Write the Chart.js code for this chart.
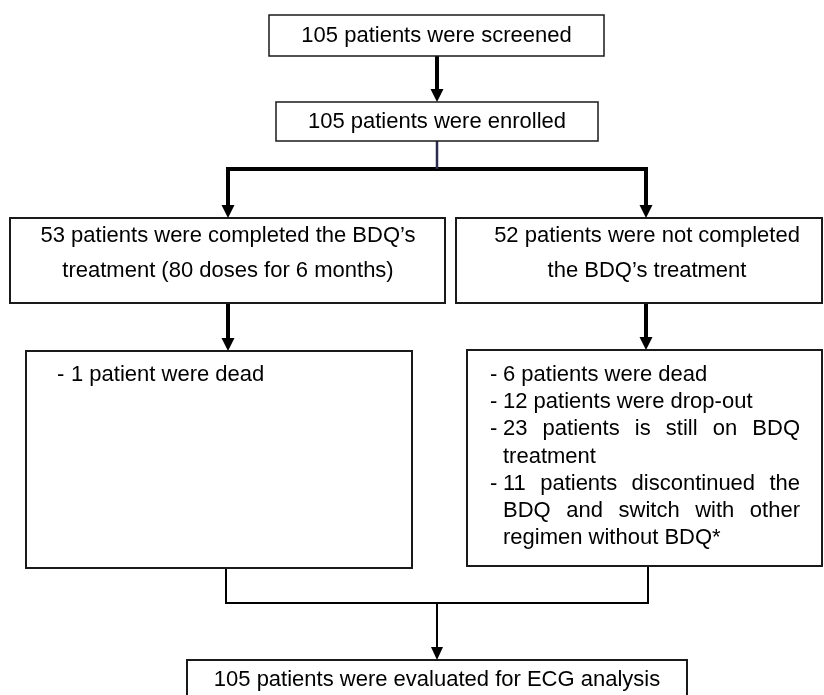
<!DOCTYPE html>
<html><head><meta charset="utf-8">
<script src="https://cdn.jsdelivr.net/npm/chart.js@4.4.1/dist/chart.umd.min.js"></script>
<style>html,body{margin:0;padding:0;background:#fff;overflow:hidden}#wrap{width:824px;height:695px;position:relative}</style>
</head><body><div id="wrap"><canvas id="c"></canvas></div>
<script>
// ---- data (flowchart texts) ----
const screenedLabel = ["105 patients were screened"];
const enrolledLabel = ["105 patients were enrolled"];
const completedLabel = ["53 patients were completed the BDQ\u2019s", "treatment (80 doses for 6 months)"];
const notCompletedLabel = ["52 patients were not completed", "the BDQ\u2019s treatment"];
const completedOutcomes = ["1 patient were dead"];
const notCompletedOutcomes = ["6 patients were dead", "12 patients were drop-out", "23 patients is still on BDQ treatment", "11 patients discontinued the BDQ and switch with other regimen without BDQ*"];
const finalLabel = ["105 patients were evaluated for ECG analysis"];

// ---- layout (scale units) ----
const FONT = '22px "Liberation Sans", Arial, sans-serif';
const boxes = [
  {x0:269, y0:15,  x1:604, y1:56,  w:1.5, lines:screenedLabel, cx:436.5, y:35.5, lh:0},
  {x0:276, y0:102, x1:598, y1:141, w:1.5, lines:enrolledLabel, cx:437, y:121.5, lh:0},
  {x0:10,  y0:218, x1:445, y1:303, w:2, lines:completedLabel, cx:228, y:235.5, lh:35},
  {x0:456, y0:218, x1:822, y1:303, w:2, lines:notCompletedLabel, cx:647, y:235.5, lh:35},
  {x0:26,  y0:351, x1:412, y1:568, w:2, bullets:completedOutcomes, dx:57, tx:71, rx:400, y:375, lh:27.2},
  {x0:467, y0:350, x1:822, y1:566, w:2, bullets:notCompletedOutcomes, dx:490, tx:503, rx:800, y:375, lh:27.2},
  {x0:187, y0:660, x1:687, y1:720, w:2, lines:finalLabel, cx:437, y:680, lh:0}
];
const connectors = [
  {pts:[[437,56],[437,102]], w:4, c:'#000', arrow:[1]},
  {pts:[[437,141],[437,169]], w:2.5, c:'#2c2c4e', arrow:[]},
  {pts:[[228,218],[228,169],[646,169],[646,218]], w:4, c:'#000', arrow:[0,3]},
  {pts:[[228,303],[228,351]], w:4, c:'#000', arrow:[1]},
  {pts:[[646,303],[646,350]], w:4, c:'#000', arrow:[1]},
  {pts:[[226,568],[226,603],[648,603],[648,566]], w:2, c:'#000', arrow:[]},
  {pts:[[437,603],[437,660]], w:2, c:'#000', arrow:[1]}
];

const datasets = [];
boxes.forEach(b => {
  datasets.push({data:[{x:b.x0,y:b.y0},{x:b.x1,y:b.y0},{x:b.x1,y:b.y1},{x:b.x0,y:b.y1},{x:b.x0,y:b.y0}],
    showLine:true, borderColor:'#1a1a1a', borderWidth:b.w, pointRadius:0, fill:false, tension:0,
    borderJoinStyle:'miter', borderCapStyle:'square', clip:false});
});
connectors.forEach(c => {
  const pts = c.pts.map(p => ({x:p[0], y:p[1]}));
  // shorten ends that carry an arrowhead so the line does not poke through the tip
  c.arrow.forEach(i => {
    const j = i === 0 ? 1 : i - 1;
    const dy = Math.sign(pts[i].y - pts[j].y);
    pts[i] = {x:pts[i].x, y:pts[i].y - dy*8};
  });
  datasets.push({data:pts, showLine:true, borderColor:c.c, borderWidth:c.w, pointRadius:0, fill:false, tension:0,
    borderJoinStyle:'miter', borderCapStyle:'butt', clip:false});
});

const flowPlugin = {
  id:'flow',
  beforeDraw(chart){
    const ctx = chart.ctx; ctx.save(); ctx.fillStyle='#fff'; ctx.fillRect(0,0,chart.width,chart.height); ctx.restore();
  },
  afterDatasetsDraw(chart){
    const ctx = chart.ctx, sx = chart.scales.x, sy = chart.scales.y;
    const X = v => sx.getPixelForValue(v), Y = v => sy.getPixelForValue(v);
    ctx.save();
    // arrowheads
    connectors.forEach(c => {
      c.arrow.forEach(i => {
        const p = c.pts[i], q = c.pts[i === 0 ? 1 : i - 1];
        const dir = Math.sign(p[1] - q[1]);
        const tx = X(p[0]), ty = Y(p[1]);
        const hw = c.w >= 3 ? 6.5 : 6, hh = 13;
        ctx.fillStyle = c.c;
        ctx.beginPath();
        ctx.moveTo(tx, ty);
        ctx.lineTo(tx - hw, ty - dir*hh);
        ctx.lineTo(tx + hw, ty - dir*hh);
        ctx.closePath(); ctx.fill();
      });
    });
    // texts
    ctx.font = FONT; ctx.fillStyle = '#000'; ctx.textBaseline = 'middle';
    boxes.forEach(b => {
      if (b.lines) {
        ctx.textAlign = 'center';
        b.lines.forEach((t, k) => ctx.fillText(t, X(b.cx), Y(b.y + k*b.lh)));
      } else if (b.bullets) {
        ctx.textAlign = 'left';
        const maxW = X(b.rx) - X(b.tx);
        const sp = ctx.measureText(' ').width;
        let row = 0;
        b.bullets.forEach(item => {
          const words = item.split(' ');
          const lines = []; let cur = [];
          words.forEach(w => {
            const test = cur.concat([w]).join(' ');
            if (cur.length && ctx.measureText(test).width > maxW) { lines.push(cur); cur = [w]; }
            else cur.push(w);
          });
          if (cur.length) lines.push(cur);
          lines.forEach((ws, li) => {
            const y = Y(b.y + row*b.lh);
            if (li === 0) ctx.fillText('-', X(b.dx), y);
            const last = li === lines.length - 1;
            if (last || ws.length < 2) {
              ctx.fillText(ws.join(' '), X(b.tx), y);
            } else {
              const sum = ws.reduce((a, w) => a + ctx.measureText(w).width, 0);
              const gap = (maxW - sum) / (ws.length - 1);
              let x = X(b.tx);
              ws.forEach(w => { ctx.fillText(w, x, y); x += ctx.measureText(w).width + gap; });
            }
            row++;
          });
        });
      }
    });
    ctx.restore();
  }
};

new Chart(document.getElementById('c'), {
  type:'scatter',
  data:{datasets},
  options:{
    responsive:true, maintainAspectRatio:false, animation:false,
    layout:{padding:0},
    events:[],
    plugins:{legend:{display:false}, tooltip:{enabled:false}},
    scales:{
      x:{type:'linear', min:0, max:824, display:false},
      y:{type:'linear', min:0, max:695, reverse:true, display:false}
    }
  },
  plugins:[flowPlugin]
});
</script>
</body></html>
